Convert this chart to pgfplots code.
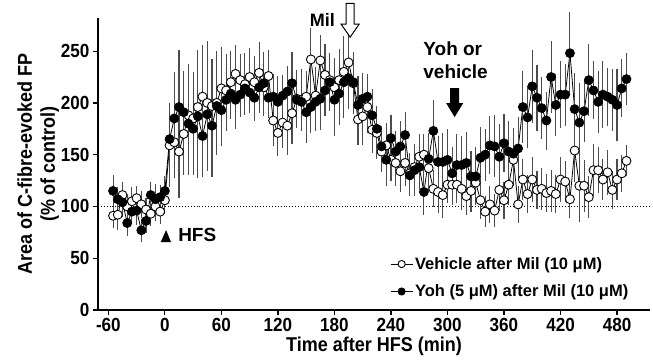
\documentclass[border=0pt]{standalone}
\usepackage{pgfplots}
\pgfplotsset{compat=1.18}
\usepackage{pgfplotstable}
\usepackage{fontspec}
\setmainfont{Liberation Sans}[FakeStretch=0.9]
\newfontfamily\wfont{Liberation Sans}

\pgfplotstableread{
t v e
-55 115 15
-50 107 12
-45 104 14
-40 84 13
-35 95 12
-30 96 14
-25 77 11
-20 86 12
-15 111 13
-10 107 15
-5 109 12
0 115 14
5 165 35
10 185 45
15 196 55
20 191 40
25 180 50
30 175 45
35 187 60
40 168 40
45 189 55
50 178 50
55 197 45
60 193 35
65 203 30
70 209 25
75 203 28
80 208 22
85 214 25
90 210 20
95 205 22
100 215 25
105 219 30
110 205 20
115 206 22
120 201 25
125 207 20
130 211 25
135 219 30
140 203 25
145 201 28
150 191 30
155 196 25
160 201 28
165 204 30
170 212 25
175 220 28
180 203 35
185 209 30
190 220 35
195 224 30
200 220 25
205 198 28
210 204 25
215 206 22
220 188 25
225 175 22
230 158 20
235 145 25
240 166 22
245 153 20
250 158 25
255 169 22
260 130 20
265 135 25
270 138 22
275 114 22
280 146 25
285 173 30
290 143 25
295 143 28
300 145 30
305 132 25
310 140 30
315 140 28
320 142 30
325 129 25
330 129 28
335 147 30
340 150 25
345 159 28
350 158 30
355 148 32
360 161 28
365 153 30
370 151 25
375 156 30
380 196 35
385 186 30
390 216 35
395 205 32
400 195 30
405 183 28
410 225 35
415 198 30
420 208 32
425 208 30
430 248 40
435 194 35
440 181 38
445 192 30
450 222 35
455 212 28
460 201 30
465 208 32
470 206 28
475 203 30
480 198 35
485 214 28
490 223 25
}\blackdata

\pgfplotstableread{
t v e
-55 91 12
-50 92 15
-45 111 13
-40 100 12
-35 105 14
-30 108 12
-25 102 13
-20 97 11
-15 93 12
-10 100 14
-5 95 12
0 106 13
5 159 40
10 162 35
15 153 45
20 170 40
25 188 50
30 185 45
35 196 55
40 206 50
45 200 60
50 197 45
55 200 50
60 214 40
65 212 35
70 220 30
75 228 28
80 222 25
85 218 30
90 225 28
95 220 25
100 229 30
105 215 28
110 226 25
115 183 25
120 171 22
125 181 25
130 178 28
135 190 30
140 204 28
145 203 30
150 206 25
155 242 30
160 207 28
165 241 25
170 227 30
175 222 25
180 215 28
185 222 30
190 230 35
195 239 35
200 219 30
205 184 25
210 187 28
215 196 25
220 174 22
225 171 25
230 153 20
235 159 22
240 145 20
245 142 22
250 134 20
255 142 22
260 132 20
265 138 18
270 148 22
275 150 20
280 137 22
285 117 18
290 114 20
295 111 22
300 121 18
305 121 20
310 121 18
315 117 20
320 110 18
325 115 20
330 123 22
335 106 18
340 95 15
345 102 18
350 96 16
355 116 20
360 106 18
365 121 20
370 145 25
375 102 18
380 126 20
385 112 18
390 126 22
395 116 18
400 117 20
405 113 18
410 115 20
415 112 18
420 126 22
425 124 20
430 107 18
435 154 30
440 120 35
445 120 25
450 109 20
455 135 25
460 135 22
465 126 20
470 133 22
475 116 18
480 126 20
485 132 18
490 144 15
}\whitedata

\begin{document}
\begin{tikzpicture}[font=\bfseries]
\begin{axis}[
  at={(0pt,0pt)}, anchor=south west,
  scale only axis, width=552pt, height=292pt,
  xmin=-71, xmax=515, ymin=0, ymax=282,
  axis lines*=left,
  axis line style={-, line width=1.2pt},
  tick align=outside, major tick length=5pt,
  tick style={line width=1.2pt, black},
  xtick={-60,0,...,480}, ytick={0,50,...,250},
  /pgf/number format/assume math mode=true,
  ticklabel style={font=\fontsize{19}{19}\selectfont\bfseries},
  xlabel={Time after HFS (min)},
  xlabel style={font=\fontsize{20}{20}\selectfont\bfseries, yshift=2pt},
  ylabel={Area of C-fibre-evoked FP\\(\% of control)},
  ylabel style={align=center, font=\fontsize{20}{23}\selectfont\bfseries, yshift=-5pt},
  clip=false,
  legend style={at={(axis cs:239,53)}, anchor=north west, draw=none, fill=none,
    font=\wfont\fontsize{16.5}{16.5}\selectfont\bfseries, row sep=10pt, inner sep=0pt,
    /tikz/every even column/.append style={column sep=2pt}},
  legend cell align=left,
  legend image code/.code={\draw[mark repeat=2, mark phase=2, mark size=3.6pt] plot coordinates {(0pt,0pt)(11pt,0pt)(22pt,0pt)};},
]
\addplot[black, dotted, line width=0.9pt, forget plot] coordinates {(-71,100) (515,100)};

\addplot[black, line width=0.8pt, mark=*, mark size=4.5pt,
  mark options={fill=white, draw=black, line width=0.9pt, solid},
  error bars/.cd, y dir=both, y explicit, error mark=none,
  error bar style={line width=1.1pt, black!70}]
  table[x=t, y=v, y error=e] {\whitedata};
\addlegendentry{Vehicle after Mil (10 μM)}

\addplot[black, line width=0.8pt, mark=*, mark size=4.5pt,
  mark options={fill=black, draw=black, solid},
  error bars/.cd, y dir=both, y explicit, error mark=none,
  error bar style={line width=1.1pt, black!70}]
  table[x=t, y=v, y error=e] {\blackdata};
\addlegendentry{Yoh (5 μM) after Mil (10 μM)}

% Mil hollow arrow
\draw[black, line width=1pt, fill=white]
  (axis cs:192.4,296) -- (axis cs:200.9,296) -- (axis cs:200.9,276) -- (axis cs:206.2,276)
  -- (axis cs:196.7,263.5) -- (axis cs:187.1,276) -- (axis cs:192.4,276) -- cycle;
\node[font=\wfont\fontsize{18}{18}\selectfont\bfseries] at (axis cs:167.3,280) {Mil};

% Yoh arrow
\fill[black]
  (axis cs:302.9,214.3) -- (axis cs:312.4,214.3) -- (axis cs:312.4,199.8) -- (axis cs:316.7,199.8)
  -- (axis cs:307.6,186.3) -- (axis cs:298.6,199.8) -- (axis cs:302.9,199.8) -- cycle;
\node[font=\wfont\fontsize{19}{23}\selectfont\bfseries, align=left, anchor=north west, inner sep=0pt]
  at (axis cs:274.2,259.5) {Yoh or\\vehicle};

% HFS triangle
\fill[black] (axis cs:-4.4,65.6) -- (axis cs:1.3,77.2) -- (axis cs:6.5,65.6) -- cycle;
\node[font=\wfont\fontsize{19}{19}\selectfont\bfseries, anchor=west, inner sep=0pt] at (axis cs:14,72.4) {HFS};
\end{axis}
\pgfresetboundingbox
\path[use as bounding box] (-98pt,-51pt) rectangle (555pt,310pt);
\end{tikzpicture}
\end{document}
